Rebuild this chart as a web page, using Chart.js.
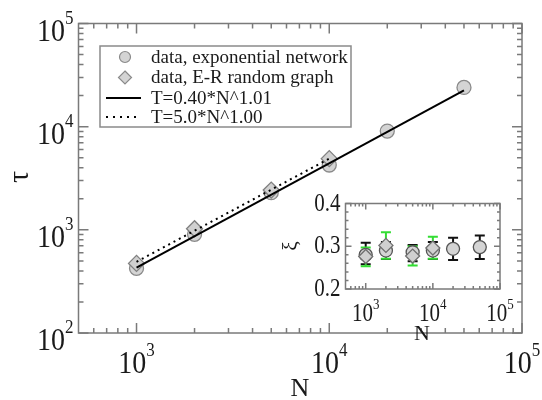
<!DOCTYPE html>
<html><head><meta charset="utf-8">
<script src="https://cdn.jsdelivr.net/npm/chart.js@4"></script>
<style>html,body{margin:0;padding:0;background:#fff}#wrap{position:relative;width:542px;height:400px}canvas{position:absolute;left:0;top:0}</style>
</head><body><div id="wrap"><canvas id="main" width="542" height="400"></canvas><canvas id="inset" width="542" height="400"></canvas></div>
<script>
// ---- data ----
const sizesExp = [1000, 2000, 5000, 10000, 20000, 50000];
const tauExp = [424, 904, 2290, 4250, 9060, 24000];
const sizesER = [1000, 2000, 5000, 10000];
const tauER = [473, 1024, 2430, 4900];
const fitExpN = [1000, 50000];
const fitExpT = [430, 22500];
const fitERN = [1000, 10000];
const fitERT = [490, 4900];
const xiExp = [0.280, 0.290, 0.286, 0.290, 0.294, 0.298];
const xiExpLo = [0.258, 0.270, 0.265, 0.270, 0.268, 0.270];
const xiExpHi = [0.308, 0.310, 0.303, 0.310, 0.320, 0.325];
const xiER = [0.276, 0.302, 0.277, 0.296];
const xiERLo = [0.253, 0.271, 0.255, 0.271];
const xiERHi = [0.297, 0.333, 0.300, 0.322];
const mainXTicks = [1e3, 1e4, 1e5];
const mainXTickExp = ['3', '4', '5'];
const mainYTicks = [1e2, 1e3, 1e4, 1e5];
const mainYTickExp = ['2', '3', '4', '5'];
const insetXTicks = [1e3, 1e4, 1e5];
const insetXTickExp = ['3', '4', '5'];
const insetYTicks = [0.2, 0.3, 0.4];
const insetYTickLabels = ['0.2', '0.3', '0.4'];
const insetYMinor = [0.22, 0.24, 0.26, 0.28, 0.32, 0.34, 0.36, 0.38];
const legendLabels = ['data, exponential network', 'data, E-R random graph', 'T=0.40*N^1.01', 'T=5.0*N^1.00'];

const SERIF = '"Liberation Serif", serif';
function logMinors(lo, hi) { const r = []; for (let d = 1e2; d < 1e6; d *= 10) for (let m = 2; m <= 9; m++) { const v = m * d; if (v > lo && v < hi) r.push(v); } return r; }

function pts(xs, ys) { return xs.map((x, i) => ({ x: x, y: ys[i] })); }

const STRETCH = 1.15;
function sText(ctx, t, x, y) { ctx.save(); ctx.translate(x, y); ctx.scale(1, STRETCH); ctx.fillText(t, 0, 0); ctx.restore(); }

function drawSup(ctx, base, exp, x, y, align, fb, fe, raise) {
  ctx.font = fb + 'px ' + SERIF; const w1 = ctx.measureText(base).width;
  ctx.font = fe + 'px ' + SERIF; const w2 = ctx.measureText(exp).width;
  const x0 = align === 'center' ? x - (w1 + w2) / 2 : x - (w1 + w2);
  ctx.textAlign = 'left'; ctx.textBaseline = 'alphabetic';
  ctx.font = fb + 'px ' + SERIF; sText(ctx, base, x0, y);
  ctx.font = fe + 'px ' + SERIF; sText(ctx, exp, x0 + w1, y - raise);
}

const frameTicks = {
  id: 'frameTicks',
  afterDatasetsDraw(chart, args, o) {
    const { ctx, chartArea: a } = chart; const x = chart.scales.x, y = chart.scales.y;
    ctx.save();
    ctx.strokeStyle = o.color; ctx.lineWidth = o.lw;
    ctx.beginPath();
    const tx = (v, len) => { const p = x.getPixelForValue(v); ctx.moveTo(p, a.bottom); ctx.lineTo(p, a.bottom - len); ctx.moveTo(p, a.top); ctx.lineTo(p, a.top + len); };
    const ty = (v, len) => { const p = y.getPixelForValue(v); ctx.moveTo(a.left, p); ctx.lineTo(a.left + len, p); ctx.moveTo(a.right, p); ctx.lineTo(a.right - len, p); };
    o.majorX.forEach(v => tx(v, o.majorLen)); o.minorX.forEach(v => { if (!o.majorX.includes(v)) tx(v, o.minorLen); });
    o.majorY.forEach(v => ty(v, o.majorLen)); o.minorY.forEach(v => { if (!o.majorY.includes(v)) ty(v, o.minorLen); });
    ctx.stroke();
    ctx.strokeRect(a.left, a.top, a.right - a.left, a.bottom - a.top);
    // labels
    ctx.fillStyle = '#1a1a1a';
    o.majorX.forEach((v, i) => { const p = x.getPixelForValue(v); drawSup(ctx, '10', o.xLabels[i], p, a.bottom + o.xOff, 'center', o.fb, o.fe, o.raise); });
    o.majorY.forEach((v, i) => {
      const p = y.getPixelForValue(v);
      if (o.yPlain) { ctx.font = o.fb + 'px ' + SERIF; ctx.textAlign = 'right'; ctx.textBaseline = 'alphabetic'; sText(ctx, o.yLabels[i], a.left - o.yOff, p + o.yBase); }
      else drawSup(ctx, '10', o.yLabels[i], a.left - o.yOff, p + o.yBase, 'right', o.fb, o.fe, o.raise);
    });
    // titles
    ctx.font = o.titleSize + 'px ' + SERIF; ctx.textAlign = 'center'; ctx.textBaseline = 'middle';
    ctx.fillText(o.xTitle, o.xTitlePos[0], o.xTitlePos[1]);
    ctx.save(); ctx.translate(o.yTitlePos[0], o.yTitlePos[1]); ctx.rotate(-Math.PI / 2);
    ctx.font = o.yTitleSize + 'px ' + SERIF; ctx.fillText(o.yTitle, 0, 0); ctx.restore();
    ctx.restore();
  }
};

const legendBox = {
  id: 'legendBox',
  afterDraw(chart) {
    const ctx = chart.ctx; ctx.save();
    const L = 100, T = 46, R = 351, B = 127;
    ctx.fillStyle = '#fff'; ctx.fillRect(L, T, R - L, B - T);
    ctx.strokeStyle = '#8a8a8a'; ctx.lineWidth = 1.5; ctx.strokeRect(L, T, R - L, B - T);
    const rows = [57, 77.5, 98, 117];
    ctx.font = '19px ' + SERIF; ctx.fillStyle = '#1a1a1a'; ctx.textAlign = 'left'; ctx.textBaseline = 'middle';
    legendLabels.forEach((t, i) => ctx.fillText(t, 151, rows[i] + 1));
    ctx.lineWidth = 1.2;
    ctx.fillStyle = '#d4d4d4'; ctx.strokeStyle = '#8a8a8a';
    ctx.beginPath(); ctx.arc(125, rows[0], 5.5, 0, Math.PI * 2); ctx.fill(); ctx.stroke();
    ctx.beginPath(); ctx.moveTo(125, rows[1] - 6.5); ctx.lineTo(131.5, rows[1]); ctx.lineTo(125, rows[1] + 6.5); ctx.lineTo(118.5, rows[1]); ctx.closePath(); ctx.fill(); ctx.stroke();
    ctx.strokeStyle = '#000'; ctx.lineWidth = 2;
    ctx.beginPath(); ctx.moveTo(106, rows[2]); ctx.lineTo(141, rows[2]); ctx.stroke();
    ctx.setLineDash([2, 5]); ctx.beginPath(); ctx.moveTo(106, rows[3]); ctx.lineTo(141, rows[3]); ctx.stroke();
    ctx.restore();
  }
};

const errorBars = {
  id: 'errorBars',
  beforeDatasetsDraw(chart, args, o) {
    const ctx = chart.ctx; const x = chart.scales.x, y = chart.scales.y;
    ctx.save(); ctx.lineWidth = 2;
    o.sets.forEach(s => {
      ctx.strokeStyle = s.color;
      s.xs.forEach((xv, i) => {
        const px = x.getPixelForValue(xv), lo = y.getPixelForValue(s.lo[i]), hi = y.getPixelForValue(s.hi[i]);
        ctx.beginPath(); ctx.moveTo(px, lo); ctx.lineTo(px, hi);
        ctx.moveTo(px - 5, lo); ctx.lineTo(px + 5, lo); ctx.moveTo(px - 5, hi); ctx.lineTo(px + 5, hi); ctx.stroke();
      });
    });
    ctx.restore();
  }
};

Chart.defaults.animation = false;
Chart.defaults.devicePixelRatio = 1;

const mainChart = new Chart(document.getElementById('main'), {
  type: 'scatter',
  data: {
    datasets: [
      { label: legendLabels[2], data: pts(fitExpN, fitExpT), showLine: true, borderColor: '#000', borderWidth: 2, pointRadius: 0 },
      { label: legendLabels[3], data: pts(fitERN, fitERT), showLine: true, borderColor: '#000', borderWidth: 2, borderDash: [2, 4], pointRadius: 0 },
      { label: legendLabels[1], data: pts(sizesER, tauER), pointStyle: 'rectRot', pointRadius: 8, backgroundColor: '#d0d0d0', borderColor: '#808080', borderWidth: 1.3 },
      { label: legendLabels[0], data: pts(sizesExp, tauExp), pointStyle: 'circle', pointRadius: 7, backgroundColor: '#d4d4d4', borderColor: '#8a8a8a', borderWidth: 1.3 }
    ]
  },
  options: {
    responsive: false,
    layout: { padding: { left: 78.5, right: 20, top: 23.5, bottom: 67 } },
    scales: {
      x: { type: 'logarithmic', min: 500, max: 1e5, display: false },
      y: { type: 'logarithmic', min: 1e2, max: 1e5, display: false }
    },
    plugins: {
      legend: { display: false }, tooltip: { enabled: false },
      frameTicks: {
        color: '#7a7a7a', lw: 1.5, majorLen: 10, minorLen: 5,
        majorX: mainXTicks, minorX: logMinors(500, 1e5), majorY: mainYTicks, minorY: logMinors(1e2, 1e5),
        xLabels: mainXTickExp, yLabels: mainYTickExp, xOff: 40, yOff: 5, yBase: 17, fb: 28, fe: 17, raise: 17,
        xTitle: 'N', xTitlePos: [300, 389], titleSize: 26, yTitle: 'τ', yTitlePos: [20, 177], yTitleSize: 30
      }
    }
  },
  plugins: [frameTicks, legendBox]
});

const insetChart = new Chart(document.getElementById('inset'), {
  type: 'scatter',
  data: {
    datasets: [
      { label: 'ER', data: pts(sizesER, xiER), pointStyle: 'rectRot', pointRadius: 7, backgroundColor: '#d0d0d0', borderColor: '#707070', borderWidth: 1.3 },
      { label: 'Exp', data: pts(sizesExp, xiExp), pointStyle: 'circle', pointRadius: 6.5, backgroundColor: '#d4d4d4', borderColor: '#555', borderWidth: 1.3 }
    ]
  },
  options: {
    responsive: false,
    layout: { padding: { left: 345.5, right: 42, top: 203.5, bottom: 111 } },
    scales: {
      x: { type: 'logarithmic', min: 500, max: 1e5, display: false },
      y: { type: 'linear', min: 0.2, max: 0.4, display: false }
    },
    plugins: {
      legend: { display: false }, tooltip: { enabled: false },
      errorBars: { sets: [
        { color: '#111', xs: sizesExp, lo: xiExpLo, hi: xiExpHi },
        { color: '#33dd33', xs: sizesER, lo: xiERLo, hi: xiERHi }
      ] },
      frameTicks: {
        color: '#7a7a7a', lw: 1.5, majorLen: 6, minorLen: 3,
        majorX: insetXTicks, minorX: logMinors(500, 1e5), majorY: insetYTicks, minorY: insetYMinor,
        xLabels: insetXTickExp, yLabels: insetYTickLabels, yPlain: true, xOff: 32, yOff: 5, yBase: 7, fb: 21, fe: 13, raise: 12,
        xTitle: 'N', xTitlePos: [422, 334], titleSize: 22, yTitle: 'ξ', yTitlePos: [291, 246], yTitleSize: 21
      }
    }
  },
  plugins: [errorBars, frameTicks]
});

if (document.fonts && document.fonts.load) {
  Promise.all([document.fonts.load('19px "Liberation Serif"')]).then(() => { mainChart.render(); insetChart.render(); });
}
</script></body></html>
